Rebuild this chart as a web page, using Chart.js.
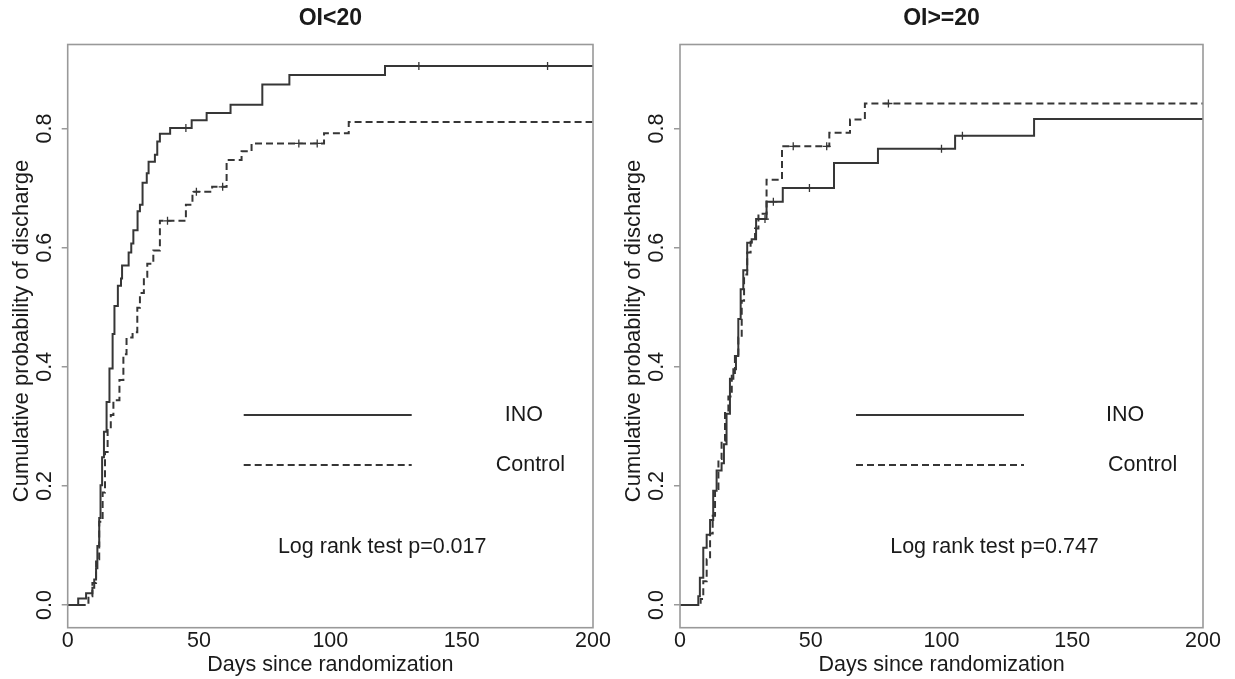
<!DOCTYPE html>
<html>
<head>
<meta charset="utf-8">
<script src="https://cdn.jsdelivr.net/npm/chart.js@4.4.0/dist/chart.umd.min.js"></script>
<style>
    html, body { margin: 0; padding: 0; background: #fff; }
    #wrap { position: relative; width: 1235px; height: 679px; }
    .panel { position: absolute; top: 0; height: 679px; }
</style>
</head>
<body>
<div id="wrap">
    <div class="panel" style="left:0;width:617px"><canvas id="leftChart"></canvas></div>
    <div class="panel" style="left:617px;width:618px"><canvas id="rightChart"></canvas></div>
</div>
<script>
// Axis ticks
const xTicks = [0, 50, 100, 150, 200];
const yTicks = [0, 0.2, 0.4, 0.6, 0.8];
const yTickLabels = ['0.0', '0.2', '0.4', '0.6', '0.8'];

// OI<20 panel: step times (days) and cumulative probability of discharge
const inoLowT = [0, 4.0, 7.0, 9.4, 10.1, 10.8, 11.3, 12.0, 12.5, 13.1, 13.8, 14.8, 15.9, 17.1, 17.8, 19.1, 20.3, 20.7, 23.2, 24.2, 25.0, 26.6, 27.5, 28.5, 30.1, 30.8, 33.2, 34.1, 35.1, 39.0, 47.2, 52.9, 62.0, 74.1, 84.4, 120.8, 200];
const inoLowS = [0, 0.011, 0.020, 0.029, 0.043, 0.062, 0.099, 0.146, 0.201, 0.248, 0.291, 0.341, 0.397, 0.455, 0.502, 0.536, 0.548, 0.570, 0.592, 0.607, 0.629, 0.661, 0.672, 0.709, 0.725, 0.744, 0.756, 0.778, 0.791, 0.801, 0.814, 0.826, 0.840, 0.874, 0.890, 0.905, 0.905];
const ctlLowT = [0, 7.9, 9.4, 10.8, 12.0, 13.3, 14.2, 15.2, 16.4, 17.4, 19.7, 21.2, 22.4, 24.7, 26.5, 27.5, 29.0, 30.3, 32.6, 35.1, 45.0, 47.5, 55.0, 60.5, 66.2, 70.0, 97.6, 107.0, 200];
const ctlLowS = [0, 0.015, 0.037, 0.077, 0.140, 0.189, 0.257, 0.294, 0.319, 0.344, 0.378, 0.421, 0.449, 0.458, 0.499, 0.524, 0.551, 0.573, 0.595, 0.645, 0.672, 0.694, 0.702, 0.747, 0.762, 0.775, 0.792, 0.811, 0.811];
const inoLowCensor = [45.0, 133.7, 182.7];
const ctlLowCensor = [38.0, 49.0, 59.0, 88.0, 95.0];

// OI>=20 panel
const inoHighT = [0, 7.0, 7.6, 8.9, 10.2, 11.5, 12.7, 14.0, 15.9, 16.8, 17.8, 19.1, 20.4, 21.4, 22.3, 23.2, 24.2, 25.7, 27.4, 29.1, 33.1, 39.3, 58.9, 75.7, 105.2, 135.4, 200];
const inoHighS = [0, 0.015, 0.046, 0.096, 0.118, 0.143, 0.192, 0.226, 0.238, 0.270, 0.321, 0.380, 0.396, 0.418, 0.480, 0.530, 0.562, 0.608, 0.614, 0.648, 0.677, 0.700, 0.742, 0.766, 0.788, 0.816, 0.816];
const ctlHighT = [0, 7.9, 8.9, 10.2, 11.5, 12.5, 13.4, 14.7, 15.9, 17.2, 18.5, 19.8, 21.0, 22.3, 23.6, 24.5, 25.7, 27.0, 28.7, 30.0, 33.1, 39.0, 57.1, 65.0, 70.7, 200];
const ctlHighS = [0, 0.010, 0.040, 0.077, 0.120, 0.150, 0.195, 0.245, 0.276, 0.325, 0.350, 0.387, 0.418, 0.449, 0.511, 0.555, 0.592, 0.610, 0.632, 0.657, 0.714, 0.770, 0.793, 0.815, 0.842, 0.842];
const inoHighCensor = [32.5, 35.7, 49.5, 100.0, 108.0];
const ctlHighCensor = [43.3, 56.1, 79.7];

const FONT = '"Liberation Sans", Arial, sans-serif';
const INK = '#1a1a1a';
const LINE = '#363636';
const BOX = '#999';

function toPoints(T, S) {
    return T.map((t, i) => ({ x: t, y: S[i] }));
}

// value of the step curve at time t (for censor marks)
function stepAt(T, S, t) {
    let v = S[0];
    for (let i = 0; i < T.length; i++) {
        if (T[i] <= t) v = S[i];
    }
    return v;
}

const panelDecor = {
    id: 'panelDecor',
    afterDraw(chart, args, opts) {
        const { ctx, chartArea: a } = chart;
        const ys = chart.scales.y;
        ctx.save();
        // box
        ctx.strokeStyle = BOX;
        ctx.lineWidth = 1.6;
        ctx.strokeRect(a.left, a.top, a.right - a.left, a.bottom - a.top);

        ctx.fillStyle = INK;
        // y tick labels, rotated like R
        ctx.font = '21.5px ' + FONT;
        ctx.textAlign = 'center';
        ctx.textBaseline = 'middle';
        yTicks.forEach((v, i) => {
            ctx.save();
            ctx.translate(a.left - 23, ys.getPixelForValue(v));
            ctx.rotate(-Math.PI / 2);
            ctx.fillText(yTickLabels[i], 0, 0);
            ctx.restore();
        });
        // y title
        ctx.save();
        ctx.font = '22px ' + FONT;
        ctx.translate(a.left - 46, 331);
        ctx.rotate(-Math.PI / 2);
        ctx.fillText('Cumulative probability of discharge', 0, 0);
        ctx.restore();
        // x title
        const cx = (a.left + a.right) / 2;
        ctx.font = '21.5px ' + FONT;
        ctx.fillText('Days since randomization', cx, 665);
        // panel title
        ctx.font = 'bold 23px ' + FONT;
        ctx.fillText(opts.title, cx, 19);

        // legend
        ctx.strokeStyle = LINE;
        ctx.lineWidth = 2;
        ctx.beginPath();
        ctx.moveTo(a.left + 176, a.top + 370.5);
        ctx.lineTo(a.left + 344, a.top + 370.5);
        ctx.stroke();
        ctx.setLineDash([7, 4]);
        ctx.beginPath();
        ctx.moveTo(a.left + 176, a.top + 420.5);
        ctx.lineTo(a.left + 344, a.top + 420.5);
        ctx.stroke();
        ctx.setLineDash([]);
        ctx.font = '21.5px ' + FONT;
        ctx.textAlign = 'left';
        ctx.fillText('INO', a.left + opts.inoX, a.top + 370.5);
        ctx.fillText('Control', a.left + 428, a.top + 420.5);
        ctx.textAlign = 'center';
        ctx.fillText(opts.test, a.left + 314.5, a.top + 502.5);
        ctx.restore();
    }
};

function makeChart(id, padRight, title, test, inoX, inoT, inoS, ctlT, ctlS, inoCens, ctlCens, boxLeft) {
    const ctx = document.getElementById(id).getContext('2d');
    return new Chart(ctx, {
        type: 'line',
        data: {
            datasets: [
                {
                    label: 'INO',
                    data: toPoints(inoT, inoS),
                    stepped: 'before',
                    borderColor: LINE,
                    borderWidth: 2,
                    pointRadius: 0,
                    fill: false
                },
                {
                    label: 'Control',
                    data: toPoints(ctlT, ctlS),
                    stepped: 'before',
                    borderColor: LINE,
                    borderWidth: 2,
                    borderDash: [7, 4],
                    pointRadius: 0,
                    fill: false
                },
                {
                    label: 'INO censored',
                    data: inoCens.map(t => ({ x: t, y: stepAt(inoT, inoS, t) })),
                    showLine: false,
                    pointStyle: 'cross',
                    pointRadius: 4,
                    borderColor: LINE,
                    borderWidth: 1.3
                },
                {
                    label: 'Control censored',
                    data: ctlCens.map(t => ({ x: t, y: stepAt(ctlT, ctlS, t) })),
                    showLine: false,
                    pointStyle: 'cross',
                    pointRadius: 4,
                    borderColor: LINE,
                    borderWidth: 1.3
                }
            ]
        },
        options: {
            responsive: true,
            maintainAspectRatio: false,
            animation: false,
            layout: { padding: { top: 44.5, right: padRight, left: 0, bottom: 0 } },
            plugins: {
                legend: { display: false },
                tooltip: { enabled: false },
                panelDecor: { title, test, inoX }
            },
            scales: {
                x: {
                    type: 'linear',
                    min: 0,
                    max: 200,
                    afterFit: s => { s.height = 51.3; },
                    afterBuildTicks: s => { s.ticks = xTicks.map(v => ({ value: v })); },
                    ticks: { color: INK, font: { family: FONT, size: 21.5 }, padding: 0, maxRotation: 0, autoSkip: false },
                    grid: { display: false, drawTicks: false },
                    border: { display: false }
                },
                y: {
                    type: 'linear',
                    min: -0.038,
                    max: 0.941,
                    afterFit: s => { s.width = boxLeft; },
                    afterBuildTicks: s => { s.ticks = yTicks.map(v => ({ value: v })); },
                    ticks: { display: false },
                    grid: { display: true, drawOnChartArea: false, drawTicks: true, tickLength: 6, color: BOX, lineWidth: 1.5 },
                    border: { display: false }
                }
            }
        },
        plugins: [panelDecor]
    });
}

document.addEventListener('DOMContentLoaded', () => {
    makeChart('leftChart', 24, 'OI<20', 'Log rank test p=0.017', 437,
        inoLowT, inoLowS, ctlLowT, ctlLowS, inoLowCensor, ctlLowCensor, 67.7);
    makeChart('rightChart', 32, 'OI>=20', 'Log rank test p=0.747', 426,
        inoHighT, inoHighS, ctlHighT, ctlHighS, inoHighCensor, ctlHighCensor, 63);
});
</script>
</body>
</html>
